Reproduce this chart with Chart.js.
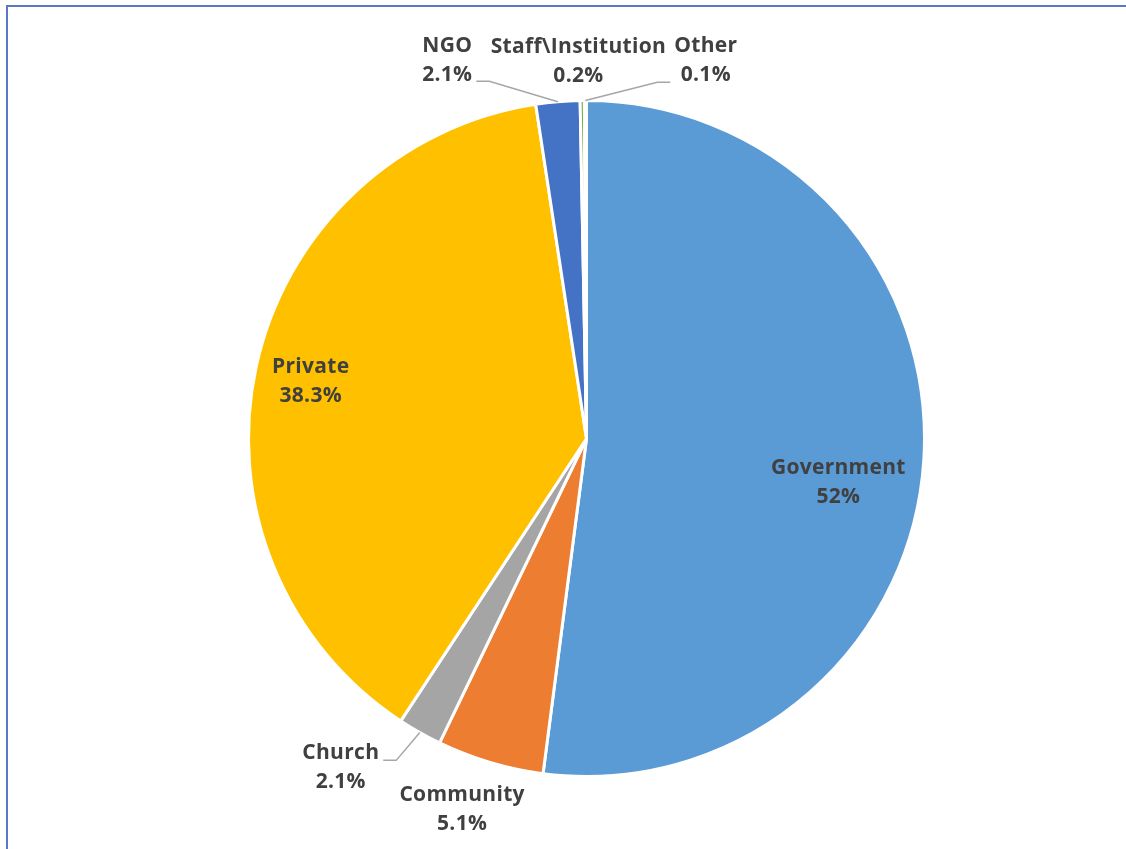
<!DOCTYPE html>
<html>
<head>
<meta charset="utf-8">
<script src="https://cdn.jsdelivr.net/npm/chart.js@4"></script>
<style>
  html, body { margin: 0; padding: 0; background: #fff; overflow: hidden; }
  #wrap { position: relative; width: 1126px; height: 849px; }
  #frame { position: absolute; left: 6px; top: 5px; width: 1200px; height: 900px; border: 2px solid #5B77C6; box-sizing: border-box; }
  canvas { position: absolute; left: 0; top: 0; }
</style>
</head>
<body>
<div id="wrap">
  <div id="frame"></div>
  <canvas id="myChart" width="1126" height="849"></canvas>
</div>
<script>
// datos del grafico
const categorias = ['Government', 'Community', 'Church', 'Private', 'NGO', 'Staff\\Institution', 'Other'];
const valores = [52, 5.1, 2.1, 38.3, 2.1, 0.2, 0.1];
const etiquetasValor = ['52%', '5.1%', '2.1%', '38.3%', '2.1%', '0.2%', '0.1%'];
const colores = ['#5B9BD5', '#ED7D31', '#A5A5A5', '#FFC000', '#4472C4', '#70AD47', '#255E91'];

// donde va cada etiqueta, relativo al centro (en fracciones del radio)
const posEtiquetas = [
  { x: 0.745, y: 0.131 },
  { x: -0.368, y: 1.098 },
  { x: -0.727, y: 0.973, linea: 'right', ly: -7 },
  { x: -0.816, y: -0.169 },
  { x: -0.412, y: -1.119, linea: 'right', ly: 21 },
  { x: -0.024, y: -1.116 },
  { x: 0.353, y: -1.119, linea: 'left', ly: 22 }
];

const etiquetasPlugin = {
  id: 'etiquetas',
  afterDatasetsDraw(chart) {
    const ctx = chart.ctx;
    const arcs = chart.getDatasetMeta(0).data;
    ctx.save();
    ctx.font = 'bold 21px "Open Sans"';
    ctx.letterSpacing = '0.3px';
    ctx.textAlign = 'center';
    ctx.textBaseline = 'middle';
    arcs.forEach((arc, i) => {
      const p = posEtiquetas[i];
      const r = arc.outerRadius;
      const cx = arc.x + p.x * r;
      const cy = arc.y + p.y * r;
      const w = Math.max(ctx.measureText(categorias[i]).width, ctx.measureText(etiquetasValor[i]).width);
      if (p.linea) {
        const mid = (arc.startAngle + arc.endAngle) / 2;
        const ax = arc.x + Math.cos(mid) * r;
        const ay = arc.y + Math.sin(mid) * r;
        const sx = p.linea === 'right' ? cx + w / 2 + 4 : cx - w / 2 - 4;
        const ey = cy + p.ly;
        const hx = p.linea === 'right' ? sx + 13 : sx - 13;
        ctx.strokeStyle = '#A6A6A6';
        ctx.lineWidth = 1.5;
        ctx.beginPath();
        ctx.moveTo(sx, ey);
        ctx.lineTo(hx, ey);
        ctx.lineTo(ax, ay);
        ctx.stroke();
      }
      ctx.fillStyle = '#404040';
      ctx.fillText(categorias[i], cx, cy - 14.5);
      ctx.fillText(etiquetasValor[i], cx, cy + 14.5);
    });
    ctx.restore();
  }
};

const ctx = document.getElementById('myChart').getContext('2d');
new Chart(ctx, {
  type: 'pie',
  data: {
    labels: categorias,
    datasets: [{
      data: valores,
      backgroundColor: colores,
      borderColor: '#FFFFFF',
      borderWidth: 3
    }]
  },
  options: {
    responsive: false,
    animation: false,
    layout: { padding: { left: 247, right: 200, top: 99, bottom: 71 } },
    plugins: {
      legend: { display: false },
      tooltip: { enabled: false }
    }
  },
  plugins: [etiquetasPlugin]
});
</script>
</body>
</html>
